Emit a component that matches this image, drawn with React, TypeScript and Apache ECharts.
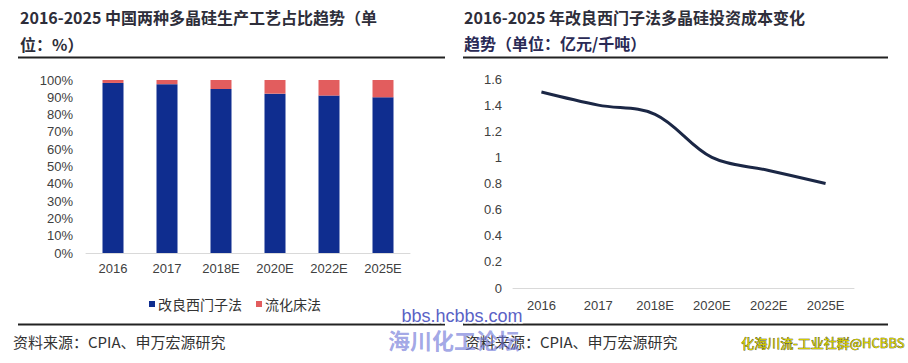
import React, { useEffect, useRef } from "react";
import * as echarts from "echarts";

const barCategories = ["2016", "2017", "2018E", "2020E", "2022E", "2025E"];
const siemensShare = [98.3, 97.6, 94.8, 92.1, 91, 90];
const fluidizedShare = [1.7, 2.4, 5.2, 7.9, 9, 10];
const lineCategories = ["2016", "2017", "2018E", "2020E", "2022E", "2025E"];
const investCost = [1.5, 1.4, 1.33, 1.0, 0.9, 0.8];

const leftTitle1 = "2016-2025 中国两种多晶硅生产工艺占比趋势（单";
const leftTitle2 = "位：%）";
const rightTitle1 = "2016-2025 年改良西门子法多晶硅投资成本变化";
const rightTitle2 = "趋势（单位：亿元/千吨）";
const sourceText = "资料来源：CPIA、申万宏源研究";

const CJK = "'Noto Sans CJK SC', 'Noto Sans', sans-serif";
const LAT = "'Liberation Sans', Arial, sans-serif";

export default function App() {
  const ref = useRef<HTMLDivElement>(null);
  useEffect(() => {
    if (!ref.current) return;
    const chart = echarts.init(ref.current, null, { renderer: "svg" });
    const axisLabel = { color: "#404040", fontSize: 13, fontFamily: LAT };
    chart.setOption({
      animation: false,
      backgroundColor: "#ffffff",
      grid: [
        { left: 86, top: 80, width: 324, height: 173 },
        { left: 513, top: 79, width: 341, height: 209 },
      ],
      legend: {
        left: 144,
        top: 292,
        icon: "rect",
        itemWidth: 6,
        itemHeight: 6,
        itemGap: 14,
        textStyle: { color: "#333", fontSize: 14, fontFamily: CJK, padding: [0, 0, 0, -2] },
        data: ["改良西门子法", "流化床法"],
      },
      xAxis: [
        {
          type: "category",
          gridIndex: 0,
          data: barCategories,
          axisLine: { lineStyle: { color: "#d9d9d9", width: 1 } },
          axisTick: { show: false },
          axisLabel: { ...axisLabel, margin: 9 },
        },
        {
          type: "category",
          gridIndex: 1,
          data: lineCategories,
          boundaryGap: true,
          axisLine: { lineStyle: { color: "#d9d9d9", width: 1 } },
          axisTick: { show: false },
          axisLabel: { ...axisLabel, margin: 11 },
        },
      ],
      yAxis: [
        {
          type: "value",
          gridIndex: 0,
          min: 0,
          max: 100,
          interval: 10,
          axisLine: { show: false },
          axisTick: { show: false },
          splitLine: { show: false },
          axisLabel: { ...axisLabel, margin: 13, formatter: "{value}%" },
        },
        {
          type: "value",
          gridIndex: 1,
          min: 0,
          max: 1.6,
          interval: 0.2,
          axisLine: { show: false },
          axisTick: { show: false },
          splitLine: { show: false },
          axisLabel: {
            ...axisLabel,
            margin: 11,
            formatter: (v: number) => String(Math.round(v * 10) / 10),
          },
        },
      ],
      series: [
        {
          name: "改良西门子法",
          type: "bar",
          stack: "share",
          xAxisIndex: 0,
          yAxisIndex: 0,
          barWidth: 21,
          itemStyle: { color: "#0f2d8f" },
          data: siemensShare,
        },
        {
          name: "流化床法",
          type: "bar",
          stack: "share",
          xAxisIndex: 0,
          yAxisIndex: 0,
          barWidth: 21,
          itemStyle: { color: "#e25d5e" },
          data: fluidizedShare,
        },
        {
          name: "投资成本",
          type: "line",
          xAxisIndex: 1,
          yAxisIndex: 1,
          smooth: 0.35,
          symbol: "none",
          lineStyle: { color: "#1b2745", width: 3 },
          data: investCost,
        },
      ],
      graphic: [
        {
          type: "text",
          left: 20,
          top: 9,
          style: { text: leftTitle1, font: `bold 16px ${CJK}`, fill: "#2e2e3a" },
        },
        {
          type: "text",
          left: 20,
          top: 36,
          style: { text: leftTitle2, font: `bold 16px ${CJK}`, fill: "#2e2e3a" },
        },
        {
          type: "text",
          left: 464,
          top: 9,
          style: { text: rightTitle1, font: `bold 16px ${CJK}`, fill: "#2e2e3a" },
        },
        {
          type: "text",
          left: 464,
          top: 35,
          style: { text: rightTitle2, font: `bold 16px ${CJK}`, fill: "#2a2a55" },
        },
        { type: "line", shape: { x1: 18, y1: 57.5, x2: 445, y2: 57.5 }, style: { stroke: "#222", lineWidth: 2 } },
        { type: "line", shape: { x1: 463, y1: 57.5, x2: 888, y2: 57.5 }, style: { stroke: "#222", lineWidth: 2 } },
        { type: "line", shape: { x1: 18, y1: 324.5, x2: 445, y2: 324.5 }, style: { stroke: "#222", lineWidth: 2 } },
        { type: "line", shape: { x1: 463, y1: 324.5, x2: 888, y2: 324.5 }, style: { stroke: "#222", lineWidth: 2 } },
        {
          type: "text",
          left: 13,
          top: 334,
          style: { text: sourceText, font: `15px ${CJK}`, fill: "#333" },
        },
        {
          type: "text",
          left: 465,
          top: 334,
          style: { text: sourceText, font: `15px ${CJK}`, fill: "#333" },
        },
        {
          type: "text",
          left: 400,
          top: 305,
          style: {
            text: "bbs.hcbbs.com",
            font: `18px ${LAT}`,
            fill: "#5a62c6",
            stroke: "#ffffff",
            lineWidth: 3,
          },
        },
        {
          type: "text",
          left: 388,
          top: 328,
          style: {
            text: "海川化工论坛",
            font: `bold 22px ${CJK}`,
            fill: "rgba(110,118,215,0.65)",
          },
        },
        {
          type: "text",
          left: 741,
          top: 336,
          style: {
            text: "化海川流-工业社群@HCBBS",
            font: `13px ${CJK}`,
            fill: "#d2cc00",
            stroke: "#3a3a00",
            lineWidth: 0.6,
          },
        },
      ],
    });
    return () => chart.dispose();
  }, []);
  return (
    <div
      ref={ref}
      style={{ position: "fixed", left: 0, top: 0, width: 908, height: 363, background: "#fff" }}
    />
  );
}
